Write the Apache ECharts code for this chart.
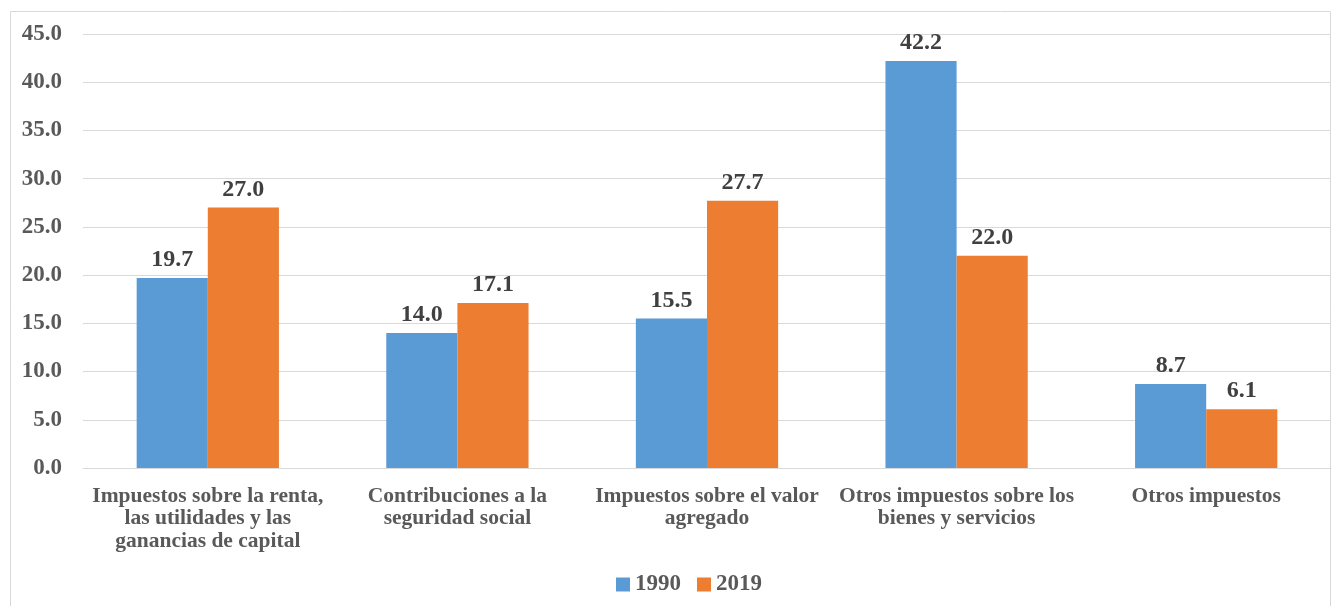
<!DOCTYPE html>
<html>
<head>
<meta charset="utf-8">
<script src="https://cdn.jsdelivr.net/npm/echarts@6/dist/echarts.min.js"></script>
<style>
  html, body { margin: 0; padding: 0; background: #ffffff; }
  #chart { width: 1335px; height: 606px; }
</style>
</head>
<body>
<div id="chart"></div>
<script>
// Composición de la recaudación tributaria (%)
const categories = [
  'Impuestos sobre la renta,\nlas utilidades y las\nganancias de capital',
  'Contribuciones a la\nseguridad social',
  'Impuestos sobre el valor\nagregado',
  'Otros impuestos sobre los\nbienes y servicios',
  'Otros impuestos'
];
const seriesNames = ['1990', '2019'];
const values1990 = [19.7, 14.0, 15.5, 42.2, 8.7];
const values2019 = [27.0, 17.1, 27.7, 22.0, 6.1];
const axisMin = 0, axisMax = 45, axisStep = 5;

const FONT = '"Liberation Serif", "DejaVu Serif", serif';
const chart = echarts.init(document.getElementById('chart'), null, { renderer: 'canvas' });

const labelStyle = {
  show: true,
  position: 'top',
  distance: 6,
  fontFamily: FONT,
  fontWeight: 'bold',
  fontSize: 24,
  color: '#404040',
  formatter: p => p.value.toFixed(1)
};

chart.setOption({
  animation: false,
  backgroundColor: '#ffffff',
  graphic: [{
    type: 'rect',
    shape: { x: 10.5, y: 11.5, width: 1320, height: 620 },
    style: { fill: null, stroke: '#d9d9d9', lineWidth: 1 },
    z: -1
  }],
  grid: { left: 83, right: 4, top: 34, bottom: 138, containLabel: false },
  legend: {
    bottom: 5,
    left: 611,
    itemWidth: 14,
    itemHeight: 14,
    itemGap: 16,
    icon: 'rect',
    textStyle: { fontFamily: FONT, fontWeight: 'bold', fontSize: 23, color: '#595959' },
    data: seriesNames
  },
  xAxis: {
    type: 'category',
    data: categories,
    axisLine: { lineStyle: { color: '#d9d9d9', width: 1 } },
    axisTick: { show: false },
    axisLabel: {
      interval: 0,
      margin: 17,
      fontFamily: FONT,
      fontWeight: 'bold',
      fontSize: 21.5,
      lineHeight: 22.5,
      color: '#595959'
    }
  },
  yAxis: {
    type: 'value',
    min: axisMin,
    max: axisMax,
    interval: axisStep,
    axisLine: { show: false },
    axisTick: { show: false },
    splitLine: { lineStyle: { color: '#d9d9d9', width: 1 } },
    axisLabel: {
      margin: 21,
      fontFamily: FONT,
      fontWeight: 'bold',
      fontSize: 23,
      color: '#595959',
      formatter: v => v.toFixed(1)
    }
  },
  series: [
    {
      name: seriesNames[0],
      type: 'bar',
      data: values1990,
      barGap: '0%',
      barCategoryGap: '43%',
      itemStyle: { color: '#5b9bd5' },
      label: labelStyle
    },
    {
      name: seriesNames[1],
      type: 'bar',
      data: values2019,
      barGap: '0%',
      barCategoryGap: '43%',
      itemStyle: { color: '#ed7d31' },
      label: labelStyle
    }
  ]
});
</script>
</body>
</html>
